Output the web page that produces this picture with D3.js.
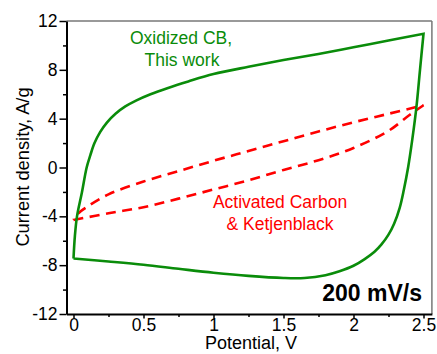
<!DOCTYPE html>
<html>
<head>
<meta charset="utf-8">
<script src="https://cdn.jsdelivr.net/npm/d3@7"></script>
<style>
  body { margin: 0; background: #fff; }
  svg text { font-family: "Liberation Sans", Arial, sans-serif; }
  .tick line { stroke: #000; stroke-width: 1.5px; }
</style>
</head>
<body>
<div id="chart"></div>
<script>
// Oxidized CB: forward sweep (bottom, then up the right side)
const cbForward = [
  [0, -7.45], [0.25, -7.7], [0.5, -7.97], [0.75, -8.3], [1.0, -8.62],
  [1.25, -8.88], [1.5, -9.05], [1.65, -9.05], [1.8, -8.82], [1.9, -8.5],
  [2.0, -8.05], [2.08, -7.5], [2.15, -6.9], [2.2, -6.3], [2.25, -5.5],
  [2.29, -4.6], [2.33, -3.3], [2.36, -1.8], [2.39, 0], [2.42, 2.3],
  [2.45, 5.0], [2.475, 8.0], [2.5, 10.95]
];
// Oxidized CB: reverse sweep (top, back to start)
const cbReverse = [
  [2.5, 10.95], [2.25, 10.4], [2.0, 9.85], [1.75, 9.3], [1.5, 8.8],
  [1.25, 8.25], [1.0, 7.65], [0.82, 7.05], [0.67, 6.5], [0.55, 6.0],
  [0.45, 5.5], [0.37, 5.0], [0.3, 4.4], [0.24, 3.7], [0.19, 2.9],
  [0.15, 2.0], [0.12, 1.0], [0.094, 0], [0.06, -2.05],
  [0.025, -4], [0.01, -5.6], [0, -7.45]
];
// Activated carbon & Ketjenblack
const acForward = [
  [0, -4.3], [0.25, -3.75], [0.5, -3.25], [0.75, -2.55], [1.0, -1.8],
  [1.25, -1.05], [1.5, -0.2], [1.75, 0.6], [2.0, 1.6], [2.25, 3.0],
  [2.4, 4.3], [2.5, 5.1]
];
const acReverse = [
  [2.5, 5.1], [2.25, 4.4], [2.0, 3.7], [1.75, 2.95], [1.5, 2.15],
  [1.25, 1.35], [1.0, 0.55], [0.75, -0.3], [0.5, -1.15], [0.25, -2.2],
  [0.1, -3.2], [0.03, -3.8], [0, -4.3]
];

const xTicks = [0, 0.5, 1, 1.5, 2, 2.5];
const xMinor = [0.25, 0.75, 1.25, 1.75, 2.25];
const yTicks = [-12, -8, -4, 0, 4, 8, 12];
const yMinor = [-10, -6, -2, 2, 6, 10];

const width = 437, height = 354;
const green = "#0a8c0a", red = "#ff0000";

const svg = d3.select("#chart").append("svg")
  .attr("width", width).attr("height", height);

const x = d3.scaleLinear().domain([-0.05, 2.56]).range([66.5, 431.9]);
const y = d3.scaleLinear().domain([-12, 12]).range([314, 21]);

// frame: top and right in gray
svg.append("line")
  .attr("x1", x.range()[0]).attr("x2", x.range()[1])
  .attr("y1", y(12)).attr("y2", y(12))
  .attr("stroke", "#777").attr("stroke-width", 1.5);
svg.append("line")
  .attr("x1", x.range()[1]).attr("x2", x.range()[1])
  .attr("y1", y(12)).attr("y2", y(-12))
  .attr("stroke", "#777").attr("stroke-width", 1.5);

// minor ticks
svg.append("g")
  .attr("transform", "translate(0," + y(-12) + ")")
  .call(d3.axisBottom(x).tickValues(xMinor).tickSize(3).tickSizeOuter(0).tickFormat(""))
  .call(g => g.select(".domain").remove());
svg.append("g")
  .attr("transform", "translate(" + x.range()[0] + ",0)")
  .call(d3.axisLeft(y).tickValues(yMinor).tickSize(3.5).tickSizeOuter(0).tickFormat(""))
  .call(g => g.select(".domain").remove());

// major axes
const xAxis = svg.append("g")
  .attr("transform", "translate(0," + y(-12) + ")")
  .call(d3.axisBottom(x).tickValues(xTicks).tickSize(4.5).tickSizeOuter(0).tickPadding(0).tickFormat(d3.format("")));
xAxis.select(".domain").attr("stroke", "#000").attr("stroke-width", 2);
xAxis.selectAll("text").style("font-size", "17.5px").attr("fill", "#000");

const yAxis = svg.append("g")
  .attr("transform", "translate(" + x.range()[0] + ",0)")
  .call(d3.axisLeft(y).tickValues(yTicks).tickSize(7).tickSizeOuter(0).tickPadding(2).tickFormat(d => d < 0 ? "-" + Math.abs(d) : d));
yAxis.select(".domain").attr("stroke", "#000").attr("stroke-width", 2);
yAxis.selectAll("text").style("font-size", "17.5px").attr("fill", "#000");

// curves
const line = d3.line().x(d => x(d[0])).y(d => y(d[1])).curve(d3.curveCatmullRom.alpha(0.5));
const loop = (a, b) => line(a) + line(b).replace(/^M/, "L");

svg.append("path")
  .attr("d", loop(acForward, acReverse))
  .attr("fill", "none")
  .attr("stroke", red)
  .attr("stroke-width", 2.6)
  .attr("stroke-dasharray", "10,6.5")
  .attr("stroke-linejoin", "miter");

svg.append("path")
  .attr("d", loop(cbForward, cbReverse))
  .attr("fill", "none")
  .attr("stroke", green)
  .attr("stroke-width", 2.6)
  .attr("stroke-linejoin", "miter");

// axis titles
svg.append("text")
  .attr("x", 251).attr("y", 349)
  .attr("text-anchor", "middle")
  .style("font-size", "18px")
  .text("Potential, V");

svg.append("text")
  .attr("transform", "translate(28.5,167) rotate(-90)")
  .attr("text-anchor", "middle")
  .style("font-size", "18.3px")
  .text("Current density, A/g");

// annotations
svg.append("text")
  .attr("x", 181).attr("y", 44)
  .attr("text-anchor", "middle")
  .attr("fill", green)
  .style("font-size", "17.5px")
  .text("Oxidized CB,");
svg.append("text")
  .attr("x", 182).attr("y", 66)
  .attr("text-anchor", "middle")
  .attr("fill", green)
  .style("font-size", "17.5px")
  .text("This work");

svg.append("text")
  .attr("x", 280).attr("y", 208)
  .attr("text-anchor", "middle")
  .attr("fill", red)
  .style("font-size", "17.5px")
  .text("Activated Carbon");
svg.append("text")
  .attr("x", 280).attr("y", 230)
  .attr("text-anchor", "middle")
  .attr("fill", red)
  .style("font-size", "17.5px")
  .text("& Ketjenblack");

svg.append("text")
  .attr("x", 422).attr("y", 301)
  .attr("text-anchor", "end")
  .style("font-size", "23px")
  .style("font-weight", "bold")
  .text("200 mV/s");
</script>
</body>
</html>
